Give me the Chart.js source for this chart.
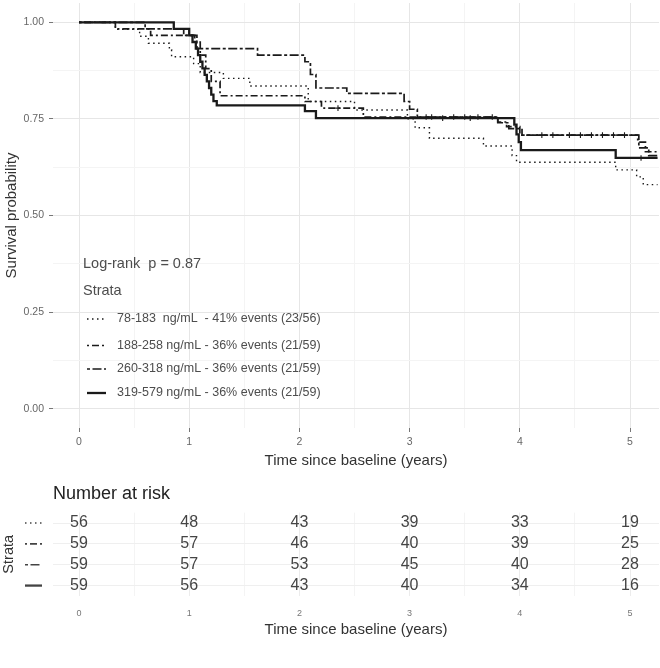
<!DOCTYPE html>
<html>
<head>
<meta charset="utf-8">
<script src="https://cdn.jsdelivr.net/npm/chart.js@4"></script>
<style>
  body { margin: 0; background: #fff; font-family: "Liberation Sans", Arial, sans-serif; }
  .box { position: relative; width: 660px; }
</style>
</head>
<body>
<div class="box" style="height:475px"><canvas id="km"></canvas></div>
<div class="box" style="height:175px"><canvas id="risk"></canvas></div>
<script>
// strata labels
const strataLabels = [
    '78-183  ng/mL  - 41% events (23/56)',
    '188-258 ng/mL - 36% events (21/59)',
    '260-318 ng/mL - 36% events (21/59)',
    '319-579 ng/mL - 36% events (21/59)'
];
const pValueText = 'Log-rank  p = 0.87';

// Kaplan-Meier curves (time in years, survival probability)
const times1 = [0, 0.33, 0.55, 0.63, 0.82, 0.84, 1.04, 1.1, 1.31, 1.55, 2.08, 2.5, 2.98, 3.05, 3.18, 3.67, 3.93, 3.97, 4.87, 5.06, 5.12, 5.25];
const surv1  = [1, 0.982, 0.964, 0.946, 0.929, 0.911, 0.893, 0.87, 0.855, 0.835, 0.795, 0.773, 0.75, 0.727, 0.70, 0.68, 0.655, 0.638, 0.618, 0.60, 0.58, 0.58];

const times2 = [0, 0.33, 0.65, 1.05, 1.1, 1.15, 1.2, 1.28, 2.05, 2.2, 2.58, 3.8, 3.88, 4.0, 5.07, 5.14, 5.25];
const surv2  = [1, 0.983, 0.966, 0.949, 0.915, 0.88, 0.847, 0.81, 0.795, 0.778, 0.755, 0.742, 0.73, 0.708, 0.69, 0.665, 0.665];

const times3 = [0, 0.6, 0.95, 1.07, 1.62, 2.05, 2.1, 2.15, 2.43, 2.95, 3.0, 3.07, 3.8, 3.9, 4.02, 5.08, 5.17, 5.25];
const surv3  = [1, 0.983, 0.966, 0.932, 0.915, 0.898, 0.865, 0.83, 0.816, 0.795, 0.775, 0.755, 0.74, 0.725, 0.708, 0.675, 0.655, 0.655];

const times4 = [0, 0.86, 1.0, 1.03, 1.06, 1.08, 1.1, 1.12, 1.14, 1.16, 1.18, 1.2, 1.22, 1.25, 2.05, 2.15, 3.95, 3.97, 3.99, 4.01, 4.87, 5.25];
const surv4  = [1, 0.983, 0.966, 0.949, 0.932, 0.915, 0.898, 0.881, 0.864, 0.847, 0.83, 0.813, 0.796, 0.785, 0.77, 0.752, 0.735, 0.71, 0.69, 0.669, 0.649, 0.649];

// censoring times (marks sit on the curve)
const censor2 = [2.35, 3.2, 3.5, 4.2, 4.45, 4.65, 4.85];
const censor3 = [3.15, 3.4, 3.62, 3.75, 4.3, 4.55, 4.75, 4.95];
const censor4 = [3.3, 3.55, 5.1];

// number at risk table
const riskTimes = [0, 1, 2, 3, 4, 5];
const risk1 = [56, 48, 43, 39, 33, 19];
const risk2 = [59, 57, 46, 40, 39, 25];
const risk3 = [59, 57, 53, 45, 40, 28];
const risk4 = [59, 56, 43, 40, 34, 16];

// axis ticks
const xTicks = [0, 0.5, 1, 1.5, 2, 2.5, 3, 3.5, 4, 4.5, 5];
const yTicks = [0, 0.125, 0.25, 0.375, 0.5, 0.625, 0.75, 0.875, 1];

const FONT = '"Liberation Sans", Arial, sans-serif';
const lineStyles = [
    { dash: [1.5, 3.5], width: 1.4 },
    { dash: [2, 3, 7, 3], width: 1.7 },
    { dash: [3, 2.5, 9, 2.5], width: 1.7 },
    { dash: [], width: 2.3 }
];

const curves = [[times1, surv1], [times2, surv2], [times3, surv3], [times4, surv4]];
const censors = [[], censor2, censor3, censor4];
const riskRows = [risk1, risk2, risk3, risk4];

const isMajor = v => Math.abs(v - Math.round(v)) < 1e-9;

// survival value of a step curve at time t
function survAt(times, surv, t) {
    let s = surv[0];
    for (let i = 0; i < times.length; i++) {
        if (times[i] <= t) s = surv[i];
    }
    return s;
}

// legend inside the plot
const kmLegend = {
    id: 'kmLegend',
    afterDraw(chart) {
        const ctx = chart.ctx;
        const x0 = 83;
        ctx.save();
        ctx.textBaseline = 'middle';
        ctx.fillStyle = '#4d4d4d';
        ctx.font = '14.5px ' + FONT;
        ctx.fillText(pValueText, x0, 264);
        ctx.fillText('Strata', x0, 291);
        ctx.font = '12.5px ' + FONT;
        const rowY = [319, 345.5, 369, 393];
        strataLabels.forEach((label, i) => {
            ctx.strokeStyle = '#1a1a1a';
            ctx.lineWidth = lineStyles[i].width;
            ctx.setLineDash(lineStyles[i].dash);
            ctx.beginPath();
            ctx.moveTo(x0 + 4, rowY[i]);
            ctx.lineTo(x0 + 23, rowY[i]);
            ctx.stroke();
            ctx.setLineDash([]);
            ctx.fillStyle = '#4d4d4d';
            ctx.fillText(label, x0 + 34, rowY[i]);
        });
        ctx.restore();
    }
};

const curveSets = curves.map(([t, s], i) => ({
    label: strataLabels[i],
    data: t.map((x, j) => ({ x: x, y: s[j] })),
    stepped: 'before',
    borderColor: '#1a1a1a',
    borderWidth: lineStyles[i].width,
    borderDash: lineStyles[i].dash,
    borderCapStyle: 'butt',
    pointRadius: 0,
    fill: false
}));
const censorSets = censors.map((c, i) => ({
    label: strataLabels[i] + ' censored',
    data: c.map(t => ({ x: t, y: survAt(curves[i][0], curves[i][1], t) })),
    showLine: false,
    pointStyle: 'cross',
    pointRadius: 2.8,
    pointBorderWidth: 1.1,
    pointBorderColor: '#1a1a1a'
}));

new Chart(document.getElementById('km'), {
    type: 'line',
    data: { datasets: curveSets.concat(censorSets) },
    options: {
        responsive: true,
        maintainAspectRatio: false,
        animation: false,
        layout: { autoPadding: false, padding: { top: 3, right: 1 } },
        plugins: { legend: { display: false }, tooltip: { enabled: false } },
        scales: {
            x: {
                type: 'linear',
                min: -0.236,
                max: 5.263,
                afterBuildTicks: s => { s.ticks = xTicks.map(v => ({ value: v })); },
                afterFit: s => { s.height = 47; s.paddingLeft = 0; s.paddingRight = 0; },
                border: { display: false },
                grid: {
                    color: c => isMajor(c.tick.value) ? '#e6e6e6' : '#f4f4f4',
                    tickColor: c => isMajor(c.tick.value) ? '#777' : 'rgba(0,0,0,0)',
                    tickLength: 4
                },
                ticks: {
                    autoSkip: false, maxRotation: 0, padding: 4,
                    color: '#666', font: { family: FONT, size: 10.5 },
                    callback: v => isMajor(v) ? String(v) : ''
                },
                title: {
                    display: true, text: 'Time since baseline (years)',
                    color: '#333', font: { family: FONT, size: 15 },
                    padding: { top: 0, bottom: 5.5 }
                }
            },
            y: {
                min: -0.05,
                max: 1.05,
                afterBuildTicks: s => { s.ticks = yTicks.map(v => ({ value: v })); },
                afterFit: s => { s.width = 53; s.paddingTop = 0; s.paddingBottom = 0; },
                border: { display: false },
                grid: {
                    color: c => isMajor(c.tick.value * 4) ? '#e6e6e6' : '#f4f4f4',
                    tickColor: c => isMajor(c.tick.value * 4) ? '#777' : 'rgba(0,0,0,0)',
                    tickLength: 4
                },
                ticks: {
                    padding: 5,
                    color: '#666', font: { family: FONT, size: 10.5 },
                    callback: v => isMajor(v * 4) ? v.toFixed(2) : ''
                },
                title: {
                    display: true, text: 'Survival probability',
                    color: '#333', font: { family: FONT, size: 15 },
                    padding: { top: 3, bottom: 0 }
                }
            }
        }
    },
    plugins: [kmLegend]
});

// risk table: numbers are drawn at each point of the scatter datasets
const riskText = {
    id: 'riskText',
    afterDatasetsDraw(chart) {
        const ctx = chart.ctx;
        ctx.save();
        ctx.textAlign = 'center';
        ctx.textBaseline = 'middle';
        ctx.fillStyle = '#444';
        ctx.font = '16px ' + FONT;
        chart.data.datasets.forEach((ds, i) => {
            chart.getDatasetMeta(i).data.forEach((pt, j) => {
                ctx.fillText(String(riskRows[i][j]), pt.x, pt.y);
            });
        });
        // title
        ctx.textAlign = 'left';
        ctx.fillStyle = '#222';
        ctx.font = '18px ' + FONT;
        ctx.fillText('Number at risk', chart.chartArea.left, 19.5);
        // strata line icons as row labels
        const yScale = chart.scales.y;
        riskRows.forEach((r, i) => {
            const y = yScale.getPixelForValue(i + 1);
            ctx.strokeStyle = '#444';
            ctx.lineWidth = lineStyles[i].width;
            ctx.setLineDash(lineStyles[i].dash);
            ctx.beginPath();
            ctx.moveTo(25, y);
            ctx.lineTo(42, y);
            ctx.stroke();
        });
        ctx.restore();
    }
};

new Chart(document.getElementById('risk'), {
    type: 'scatter',
    data: {
        datasets: riskRows.map((r, i) => ({
            label: strataLabels[i],
            data: riskTimes.map(t => ({ x: t, y: i + 1 })),
            pointRadius: 0
        }))
    },
    options: {
        responsive: true,
        maintainAspectRatio: false,
        animation: false,
        layout: { autoPadding: false, padding: { top: 37.6, right: 1 } },
        plugins: { legend: { display: false }, tooltip: { enabled: false } },
        scales: {
            x: {
                type: 'linear',
                min: -0.236,
                max: 5.263,
                afterBuildTicks: s => { s.ticks = xTicks.map(v => ({ value: v })); },
                afterFit: s => { s.height = 54; s.paddingLeft = 0; s.paddingRight = 0; },
                border: { display: false },
                grid: {
                    color: c => isMajor(c.tick.value) ? '#ececec' : '#f4f4f4',
                    drawTicks: false
                },
                ticks: {
                    autoSkip: false, maxRotation: 0, padding: 12,
                    color: '#777', font: { family: FONT, size: 9 },
                    callback: v => isMajor(v) ? String(v) : ''
                },
                title: {
                    display: true, text: 'Time since baseline (years)',
                    color: '#333', font: { family: FONT, size: 15 },
                    padding: { top: 0, bottom: 11 }
                }
            },
            y: {
                type: 'linear',
                min: 0.5,
                max: 4.5,
                reverse: true,
                afterBuildTicks: s => { s.ticks = [1, 2, 3, 4].map(v => ({ value: v })); },
                afterFit: s => { s.width = 53; s.paddingTop = 0; s.paddingBottom = 0; },
                border: { display: false },
                grid: { color: '#efefef', drawTicks: false },
                ticks: { display: false },
                title: {
                    display: true, text: 'Strata',
                    color: '#333', font: { family: FONT, size: 14.5 },
                    padding: { top: 0.5, bottom: 0 }
                }
            }
        }
    },
    plugins: [riskText]
});
</script>
</body>
</html>
